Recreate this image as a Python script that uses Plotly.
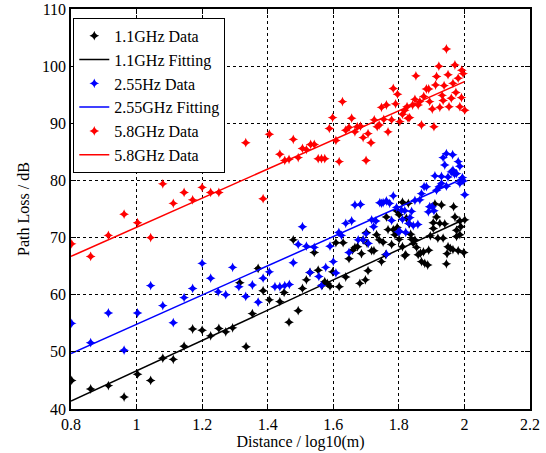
import numpy as np
import plotly.graph_objects as go

# ---- data ----
x_11 = [0.802,0.86,0.914,0.962,1.003,1.043,1.08,1.112,1.145,1.171,1.2,1.226,1.251,1.272,1.293,1.315,1.334,1.353,1.371,1.386,
        1.405,1.437,1.45,1.465,1.478,1.493,1.506,1.518,1.529,1.542,1.554,1.567,1.574,1.582,1.59,1.598,1.608,1.618,1.63,1.638,
        1.648,1.659,1.666,1.674,1.681,1.686,1.691,1.698,1.701,1.706,1.703,1.717,1.724,1.732,1.74,1.747,1.752,1.76,1.762,1.767,
        1.778,1.783,1.788,1.793,1.795,1.801,1.801,1.811,1.811,1.818,1.821,1.823,1.829,1.832,1.836,1.839,1.844,1.849,1.854,1.859,
        1.866,1.869,1.875,1.879,1.888,1.891,1.896,1.905,1.905,1.91,1.915,1.919,1.925,1.93,1.935,1.94,1.945,1.947,1.95,1.957,
        1.965,1.967,1.971,1.976,1.976,1.981,1.986,1.986,1.989,1.998,2.001]
y_11 = [45.0,43.5,44.1,42.1,46.1,45.0,48.9,48.7,51.0,54.0,53.8,52.8,54.1,53.5,54.2,62.1,50.9,56.7,64.6,60.7,
        59.1,58.8,60.4,55.2,69.6,57.2,61.1,62.6,63.9,67.4,64.3,61.7,62.3,62.0,61.5,64.0,69.1,61.4,69.1,63.1,
        66.3,67.8,68.3,68.4,62.0,67.2,69.6,62.6,70.9,64.2,69.0,67.7,67.7,70.5,69.6,65.8,69.2,67.0,73.6,71.4,
        68.8,71.4,70.5,74.7,71.8,69.7,74.0,76.2,68.4,66.8,67.0,73.4,76.0,72.4,70.6,69.7,69.0,69.6,68.3,67.0,
        67.3,65.8,67.5,65.5,65.2,67.8,70.3,71.6,72.6,75.9,73.6,69.9,72.5,75.7,69.9,72.4,65.4,67.2,68.4,68.1,
        67.9,75.4,73.6,71.3,70.2,67.7,72.9,70.5,71.9,67.4,73.1]

x_255 = [0.802,0.86,0.914,0.962,1.003,1.043,1.08,1.112,1.145,1.171,1.2,1.226,1.249,1.272,1.293,1.312,1.333,1.353,1.371,1.386,
         1.405,1.422,1.437,1.452,1.466,1.478,1.493,1.506,1.518,1.529,1.542,1.556,1.564,1.577,1.59,1.60,1.608,1.617,1.625,1.638,
         1.648,1.656,1.666,1.676,1.683,1.691,1.70,1.707,1.717,1.723,1.73,1.742,1.747,1.752,1.762,1.762,1.772,1.778,1.783,1.793,
         1.798,1.803,1.808,1.811,1.818,1.821,1.83,1.834,1.839,1.844,1.849,1.858,1.864,1.869,1.877,1.884,1.89,1.894,1.902,1.907,
         1.91,1.915,1.923,1.93,1.93,1.935,1.94,1.945,1.945,1.95,1.96,1.964,1.965,1.97,1.976,1.981,1.986,1.986,1.991,1.994,
         1.996,2.001]
y_255 = [55.0,51.6,56.8,50.3,56.8,61.6,58.1,55.1,59.5,61.1,65.5,62.9,60.5,60.0,64.8,61.4,59.7,61.7,58.7,62.9,
         64.0,61.4,61.4,61.6,61.8,65.6,68.8,71.9,68.5,63.9,68.3,63.2,61.6,64.8,68.5,65.8,63.8,70.9,70.4,72.5,
         67.4,72.9,75.7,69.6,75.8,69.6,70.7,69.0,73.1,71.9,72.9,76.1,76.0,76.1,67.1,76.4,76.0,73.0,77.3,75.3,
         71.0,71.1,74.8,73.2,74.7,70.9,72.5,73.5,74.6,72.1,76.5,72.3,76.6,77.7,78.9,78.9,74.5,75.4,75.4,74.7,
         80.8,78.3,78.9,79.5,80.7,84.0,82.7,84.7,79.0,80.6,81.5,84.5,81.8,81.1,81.2,83.3,82.5,79.5,80.2,80.5,
         79.9,77.5]

x_58 = [0.802,0.86,0.914,0.962,1.003,1.043,1.08,1.112,1.145,1.171,1.2,1.226,1.251,1.333,1.386,1.405,1.437,1.452,1.465,1.478,
        1.493,1.506,1.518,1.531,1.542,1.554,1.564,1.574,1.588,1.598,1.608,1.618,1.628,1.638,1.648,1.656,1.666,1.673,1.683,1.691,
        1.70,1.706,1.715,1.725,1.734,1.74,1.747,1.754,1.762,1.767,1.778,1.783,1.79,1.796,1.803,1.811,1.818,1.825,1.828,1.833,
        1.842,1.849,1.852,1.859,1.864,1.869,1.876,1.884,1.891,1.894,1.902,1.907,1.912,1.915,1.922,1.925,1.932,1.935,1.938,1.945,
        1.95,1.953,1.96,1.965,1.971,1.974,1.981,1.986,1.991,1.992,1.996,2.001]
y_58 = [68.9,66.7,70.4,74.1,72.6,70.0,79.4,76.0,77.9,76.6,78.8,77.9,77.9,86.6,76.8,88.1,84.6,83.5,83.7,87.2,
        84.0,85.6,85.4,86.3,86.3,83.8,83.8,83.8,89.1,91.0,87.0,83.3,93.8,88.8,89.3,90.9,88.5,89.4,89.5,87.5,
        83.5,88.2,86.6,90.6,89.4,89.7,92.8,90.7,93.2,88.5,90.6,96.1,93.4,95.1,90.3,91.6,92.3,92.9,90.9,91.0,
        93.2,94.2,98.3,93.2,93.8,89.7,94.7,96.0,96.0,93.8,92.5,89.4,96.7,98.2,100.0,92.8,94.9,94.0,96.6,103.0,
        98.5,92.9,94.4,97.0,100.2,95.4,97.9,92.9,94.5,99.3,98.7,92.3]

# fitted lines: value at x=0.8 and slope
fit_x = [0.8, 2.0]
fit_11 = (41.4, 26.5)
fit_255 = (49.7, 25.6)
fit_58 = (66.7, 25.5)

x_ticks = [0.8, 1, 1.2, 1.4, 1.6, 1.8, 2, 2.2]
x_ticktext = ["0.8", "1", "1.2", "1.4", "1.6", "1.8", "2", "2.2"]
y_ticks = [40, 50, 60, 70, 80, 90, 100, 110]


def fit_line(p):
    return [p[0] + p[1] * (x - 0.8) for x in fit_x]


FONT = "Liberation Serif"
fig = go.Figure()


def add_data(x, y, color, name):
    fig.add_trace(go.Scatter(x=x, y=y, mode="markers", name=name,
                             marker=dict(symbol="star-diamond", size=7, color=color,
                                         line=dict(width=0))))


def add_fit(p, color, name):
    fig.add_trace(go.Scatter(x=fit_x, y=fit_line(p), mode="lines", name=name,
                             line=dict(color=color, width=1.5)))


add_data(x_11, y_11, "black", "1.1GHz Data")
add_fit(fit_11, "black", "1.1GHz Fitting")
add_data(x_255, y_255, "blue", "2.55Hz Data")
add_fit(fit_255, "blue", "2.55GHz Fitting")
add_data(x_58, y_58, "red", "5.8GHz Data")
add_fit(fit_58, "red", "5.8GHz Data")

axis_common = dict(showgrid=True, gridcolor="black", griddash="dot", gridwidth=1,
                   showline=True, linecolor="black", linewidth=1.5, mirror="ticks",
                   ticks="inside", ticklen=5, tickcolor="black", zeroline=False,
                   automargin=False,
                   tickfont=dict(family=FONT, size=16, color="black"))

fig.update_layout(
    width=546, height=453,
    margin=dict(l=71, r=16, t=9, b=44),
    paper_bgcolor="white", plot_bgcolor="white",
    font=dict(family=FONT, size=16, color="black"),
    xaxis=dict(range=[0.8, 2.2], tickvals=x_ticks, ticktext=x_ticktext,
               title=dict(text="Distance / log10(m)", standoff=0,
                          font=dict(family=FONT, size=16)), **axis_common),
    yaxis=dict(range=[40, 110], tickvals=y_ticks,
               title=dict(text="Path Loss / dB", standoff=8,
                          font=dict(family=FONT, size=16)), **axis_common),
    legend=dict(x=0.005, y=0.978, xanchor="left", yanchor="top",
                bgcolor="white", bordercolor="black", borderwidth=1,
                font=dict(family=FONT, size=16), tracegroupgap=0, itemwidth=30),
    showlegend=True,
)

fig.write_html("out.html", config={"displayModeBar": False},
               post_script="document.body.style.margin='0px';")
